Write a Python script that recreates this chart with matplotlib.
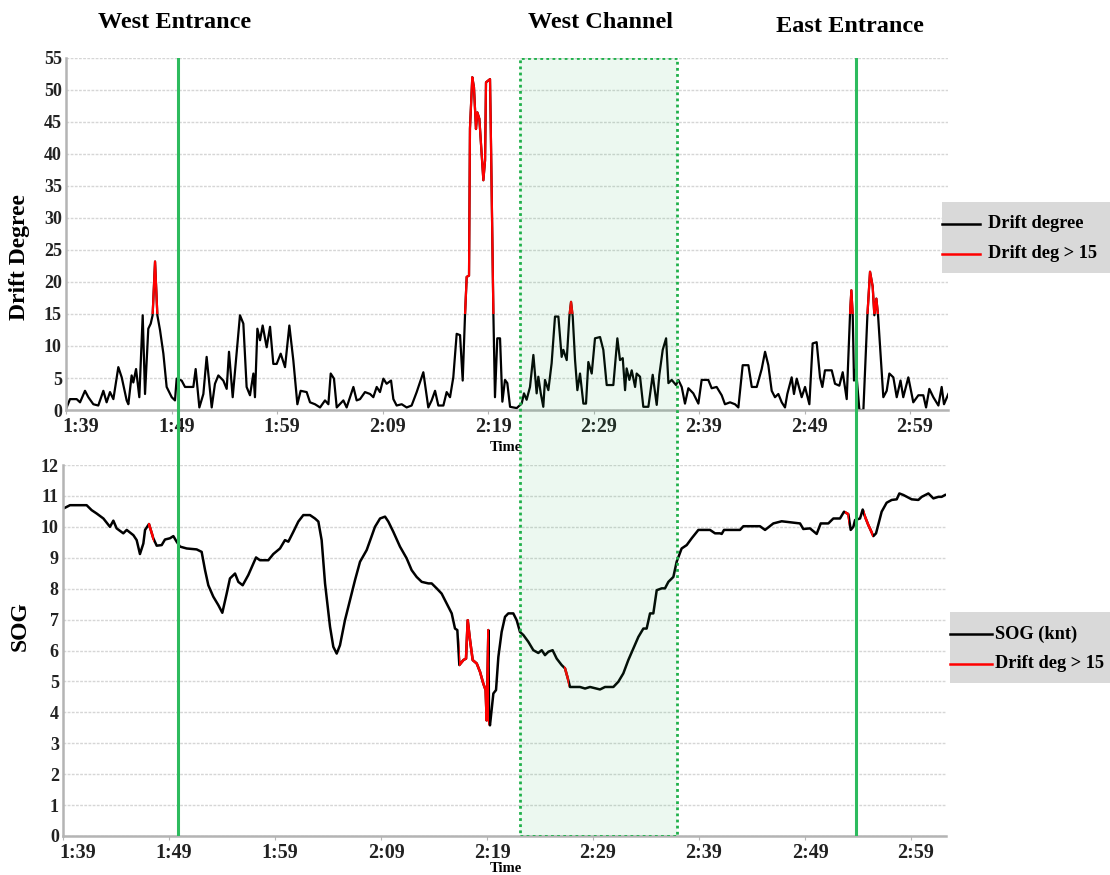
import numpy as np
import matplotlib
matplotlib.use("Agg")
import matplotlib.pyplot as plt
import matplotlib.transforms as mtransforms
from matplotlib.patches import Rectangle
from matplotlib.lines import Line2D

plt.rcParams['font.family'] = ['Liberation Serif', 'DejaVu Serif']
plt.rcParams['font.weight'] = 'bold'

# minutes after 1:39
drift_t = [0.06, 0.38, 1.01, 1.33, 1.80, 2.12, 2.59, 3.06, 3.54, 3.85, 4.17, 4.49, 4.96, 5.28,
           5.75, 5.91, 6.22, 6.38, 6.64, 6.95, 7.27, 7.49, 7.80, 8.03, 8.21, 8.44, 8.66, 8.91,
           9.23, 9.54, 10.02, 10.33, 10.49, 10.96, 11.28, 12.07, 12.29, 12.64, 13.02, 13.33,
           13.81, 14.12, 14.44, 14.91, 15.23, 15.45, 15.80, 16.11, 16.49, 16.81, 17.12, 17.44,
           17.76, 17.91, 18.14, 18.39, 18.64, 19.02, 19.34, 19.65, 19.97, 20.35, 20.76, 21.17,
           21.55, 21.93, 22.24, 22.81, 23.13, 23.60, 24.08, 24.55, 24.87, 25.09, 25.40, 25.66,
           26.29, 26.60, 26.92, 27.24, 27.55, 27.87,
           28.34, 28.82, 29.13, 29.45, 29.76, 30.08, 30.39, 30.81, 31.03, 31.34, 31.82, 32.29,
           32.76, 33.24, 33.87, 34.34, 34.66, 34.98, 35.29, 35.77, 36.08, 36.40, 36.71, 37.03,
           37.35, 37.60, 37.82, 37.98, 38.20, 38.29, 38.51, 38.67, 38.86, 38.99, 39.18, 39.56,
           39.72, 39.81, 40.19, 40.28, 40.51, 40.66, 40.88, 41.14, 41.36, 41.61, 41.83, 42.09,
           42.72, 43.19, 43.41, 43.66, 43.98, 44.30, 44.61, 44.77, 45.00, 45.24, 45.40, 45.72,
           46.03, 46.35, 46.67, 46.98, 47.14, 47.46, 47.71, 47.87, 48.03, 48.25, 48.47, 48.72,
           49.04, 49.29, 49.51, 49.83, 50.14, 50.62, 50.93, 51.25, 51.88, 52.26, 52.51, 52.77,
           52.99, 53.14, 53.40, 53.62, 53.94, 54.09, 54.41, 54.72, 55.20, 55.61, 55.99, 56.24,
           56.56, 56.88, 57.10, 57.41, 57.82, 58.04, 58.36, 58.67, 58.99, 59.46, 59.94, 60.25,
           60.88, 61.20, 61.67, 62.15, 62.46, 62.94, 63.41, 63.73, 64.14, 64.68, 65.00, 65.47,
           65.94, 66.26, 66.57, 66.89, 67.20, 67.52, 67.84, 68.15, 68.37, 68.78, 69.00, 69.26,
           69.73, 70.05, 70.46, 70.77, 71.15, 71.47, 71.69, 71.94, 72.58, 72.89, 73.30, 73.62,
           74.00, 74.31, 74.44, 74.57, 74.69, 74.88, 75.20, 75.58, 75.96, 76.21, 76.46, 76.62,
           76.81, 76.97, 77.47, 77.79, 78.04, 78.42, 78.74, 79.10, 79.36, 79.84, 80.31, 80.79,
           81.26, 81.52, 81.83, 82.21, 82.69, 83.00, 83.22, 83.63]
drift_deg = [0.4, 1.7, 1.7, 1.2, 3.0, 2.0, 0.9, 0.7, 3.0, 1.2, 2.8, 1.7, 6.7, 5.1,
             1.5, 0.9, 5.4, 4.3, 6.4, 2.0, 14.8, 2.5, 12.7, 13.5, 14.8, 23.2, 14.8, 12.5,
             8.8, 3.6, 2.0, 1.5, 4.9, 4.6, 3.6, 3.6, 6.4, 0.4, 2.5, 8.3,
             0.4, 4.1, 5.4, 4.6, 3.3, 9.1, 2.0, 7.7, 14.8, 13.5, 3.6, 2.3,
             5.7, 2.0, 12.7, 10.9, 13.2, 9.8, 13.0, 7.2, 7.2, 8.8, 6.7, 13.2,
             7.7, 0.9, 3.0, 2.8, 1.2, 0.9, 0.4, 1.5, 0.9, 5.7, 4.9, 0.4,
             1.5, 0.4, 2.0, 3.6, 1.5, 1.7,
             2.8, 2.5, 2.0, 3.6, 2.8, 4.9, 4.1, 4.6, 1.7, 0.7, 0.9, 0.4,
             0.7, 2.8, 5.9, 0.4, 1.5, 3.0, 0.7, 0.7, 2.8, 2.0, 5.1, 11.9,
             11.7, 4.6, 14.8, 20.8, 21.0, 44.0, 52.0, 50.4, 43.9, 46.5, 45.5, 35.9,
             39.0, 51.2, 51.7, 42.0, 15.0, 2.0, 11.2, 11.2, 1.3, 4.7, 4.2, 0.5,
             0.3, 1.0, 2.6, 1.6, 3.6, 8.6, 2.6, 5.2, 2.6, 0.5, 4.7, 3.1,
             7.3, 14.6, 14.6, 8.3, 9.4, 7.8, 14.6, 16.9, 14.6, 7.8, 3.1, 5.7,
             1.0, 1.0, 7.5, 5.7, 11.2, 11.4, 9.4, 3.9, 3.9, 11.2, 7.8, 8.1,
             3.1, 6.5, 4.7, 6.2, 3.6, 5.7, 5.2, 0.5, 0.5, 5.5, 0.8, 5.5,
             9.4, 11.2, 4.2, 4.7, 3.9, 4.7, 3.6, 1.0, 3.4, 2.6, 1.0, 4.7,
             4.7, 3.4, 3.6, 2.3, 0.9, 1.2, 0.9, 0.4, 7.0, 7.0, 3.6, 3.6,
             6.4, 9.1, 7.0, 3.0, 2.0, 2.5, 1.2, 0.4, 2.5, 5.1, 2.5, 4.9,
             2.0, 3.6, 0.9, 10.4, 10.6, 5.1, 3.6, 6.2, 6.2, 4.1, 3.8, 5.9,
             1.7, 14.8, 18.7, 14.8, 4.6, 6.4, 0.0, 0.0, 14.8, 21.6, 19.3, 14.8,
             17.4, 14.8, 2.0, 3.0, 5.7, 5.1, 2.0, 4.6, 2.0, 5.1, 1.2, 2.3,
             2.3, 0.4, 3.3, 2.0, 0.7, 3.6, 0.9, 2.5]

sog_t = [0.09, 0.66, 2.23, 2.70, 3.18, 3.81, 4.43, 4.75, 5.06, 5.69, 6.01, 6.64, 6.95, 7.26,
         7.58, 7.74, 8.11, 8.52, 8.84, 9.31, 9.62, 10.09, 10.41, 10.72, 11.04, 11.67, 12.61,
         13.08, 13.40, 13.71, 14.18, 14.65, 15.03, 15.44, 15.75, 16.23, 16.54, 16.95, 17.48,
         18.21, 18.58, 19.37, 19.84, 20.47, 20.94, 21.26, 21.73, 22.20, 22.67, 23.30, 23.77,
         24.09, 24.40, 24.72, 25.19, 25.50, 25.82, 26.13, 26.60, 27.23, 27.55, 28.02, 28.65,
         29.43, 29.91, 30.38, 30.69, 31.16, 31.79, 32.42, 32.89, 33.36, 33.84, 34.47, 34.78,
         35.25, 35.72, 36.20, 36.67, 36.98, 37.20, 37.39, 37.77, 38.02, 38.18, 38.40, 38.65,
         39.03, 39.34, 39.65, 39.87, 39.97, 40.13, 40.19, 40.28, 40.60, 40.85, 41.07, 41.38,
         41.70, 42.01, 42.48, 42.80, 43.11, 43.43, 43.90, 44.37, 44.84, 45.16, 45.47, 45.79,
         46.19, 46.57, 47.04, 47.36, 47.67, 47.83, 48.77, 49.25, 49.72, 50.66, 51.13, 51.92,
         52.39, 52.86, 53.33, 53.80, 54.28, 54.75, 55.06, 55.38, 55.69, 56.01, 56.48, 56.79,
         57.11, 57.58, 57.89, 58.36, 58.84, 59.31, 59.94, 60.41, 61.04, 61.51, 61.98,
         62.14, 62.36, 63.87, 64.18, 65.75, 66.23, 67.01, 67.80, 69.53, 69.84, 70.47, 71.10,
         71.48, 72.20, 72.67, 73.30, 73.68, 74.09, 74.31, 74.56, 74.72, 75.19, 75.44, 75.60,
         75.97, 76.45, 76.70, 77.23, 77.70, 78.18, 78.65, 78.90, 79.28, 80.06, 80.69, 81.01,
         81.64, 82.11, 82.58, 82.89, 83.21]
sog_knt = [10.6, 10.7, 10.7, 10.54, 10.43, 10.27, 10.0, 10.2, 9.95, 9.79, 9.9, 9.73, 9.57, 9.12,
           9.46, 9.9, 10.09, 9.63, 9.39, 9.41, 9.59, 9.63, 9.7, 9.52, 9.36, 9.3, 9.27,
           9.19, 8.6, 8.11, 7.74, 7.47, 7.22, 7.84, 8.33, 8.49, 8.22, 8.11, 8.44,
           9.01, 8.92, 8.92, 9.12, 9.3, 9.57, 9.52, 9.84, 10.17, 10.38, 10.38, 10.27,
           10.17, 9.57, 8.17, 6.77, 6.12, 5.9, 6.17, 6.98, 7.84, 8.28, 8.87, 9.25,
           10.0, 10.27, 10.33, 10.17, 9.84, 9.36, 8.98, 8.6, 8.38, 8.22, 8.17, 8.17,
           8.01, 7.84, 7.52, 7.2, 6.71, 6.66, 5.53, 5.69, 5.74, 6.98, 6.33, 5.69,
           5.58, 5.31, 4.93, 4.72, 3.74, 6.66, 3.74, 3.58, 4.61, 4.72, 5.79, 6.6,
           7.09, 7.2, 7.2, 6.98, 6.6, 6.5, 6.28, 6.01, 5.92, 6.01, 5.85, 5.96,
           6.01, 5.74, 5.53, 5.42, 5.04, 4.82, 4.82, 4.77, 4.82, 4.74, 4.82, 4.82,
           4.99, 5.26, 5.69, 6.06, 6.44, 6.71, 6.71, 7.2, 7.2, 7.95, 8.01, 8.01,
           8.22, 8.38, 8.87, 9.3, 9.41, 9.63, 9.9, 9.9, 9.9, 9.79, 9.79,
           9.77, 9.9, 9.9, 10.02, 10.02, 9.9, 10.11, 10.18, 10.11, 9.93, 9.95, 9.77,
           10.11, 10.11, 10.27, 10.27, 10.49, 10.41, 9.9, 10.0, 10.22, 10.27, 10.56, 10.38,
           10.06, 9.7, 9.79, 10.49, 10.78, 10.87, 10.89, 11.08, 11.03, 10.89, 10.87, 10.97,
           11.08, 10.92, 10.97, 10.97, 11.03]

# stretches where drift > 15 (shown red on the SOG trace)
sog_red_spans = [(8.05, 8.58), (37.35, 40.22), (47.3, 47.7), (73.75, 74.15), (75.55, 76.45)]

tick_minutes = [0, 10, 20, 30, 40, 50, 60, 70, 80]
tick_labels = ["1:39", "1:49", "1:59", "2:09", "2:19", "2:29", "2:39", "2:49", "2:59"]

west_entrance = 10.6
east_entrance = 74.9
west_channel = (43.0, 57.9)
drift_limit = 15

W, H = 1110, 875
fig = plt.figure(figsize=(W / 100, H / 100), dpi=100)


def fx(px):
    return px / W


def fy(py):
    return 1 - py / H


def style_axes(ax, ymax, ystep, xmax):
    ax.set_xlim(0, xmax)
    ax.set_ylim(0, ymax)
    ax.set_yticks(np.arange(0, ymax + 0.01, ystep))
    ax.set_xticks(tick_minutes)
    ax.set_xticklabels(tick_labels)
    for s in ["top", "right"]:
        ax.spines[s].set_visible(False)
    for s in ["left", "bottom"]:
        ax.spines[s].set_color("#b4b4b4")
        ax.spines[s].set_linewidth(1.8)
    ax.yaxis.grid(True, linestyle=(0, (2, 1)), color="#d6d6d6", lw=1)
    ax.set_axisbelow(True)
    ax.tick_params(axis="y", length=0, pad=3, labelsize=13, labelcolor="#222222")
    ax.tick_params(axis="x", length=3, color="#b4b4b4", pad=2, labelsize=14.5, labelcolor="#222222")
    shift = mtransforms.ScaledTranslation(5 / 100, 0, fig.dpi_scale_trans)
    for i, lab in enumerate(ax.get_xticklabels()):
        lab.set_fontweight("bold")
        lab.set_transform(lab.get_transform() + (mtransforms.ScaledTranslation(15 / 100, 0, fig.dpi_scale_trans) if i == 0 else shift))
    for lab in ax.get_yticklabels():
        lab.set_fontweight("bold")


# top panel: drift degree
ax1 = fig.add_axes([fx(66), fy(410), fx(948 - 66), (410 - 58) / H])
style_axes(ax1, 55, 5, 83.6)
ax1.plot(drift_t, drift_deg, color="black", lw=1.6)
red1, = ax1.plot(drift_t, drift_deg, color="#ff0000", lw=1.6)
red1.set_clip_path(Rectangle((0, drift_limit), 100, 100, transform=ax1.transData))

# bottom panel: SOG
ax2 = fig.add_axes([fx(63), fy(836), fx(946 - 63), (836 - 465) / H])
style_axes(ax2, 12, 1, 83.3)
ax2.plot(sog_t, sog_knt, color="black", lw=1.8)
for t0, t1 in sog_red_spans:
    r, = ax2.plot(sog_t, sog_knt, color="#ff0000", lw=1.8)
    r.set_clip_path(Rectangle((t0, -1), t1 - t0, 20, transform=ax2.transData))

# overlay for entrances and channel spanning both panels
ov = fig.add_axes([fx(66), fy(836), fx(948 - 66), (836 - 58) / H], zorder=5)
ov.set_xlim(0, 83.6)
ov.set_ylim(0, 1)
ov.axis("off")
ov.patch.set_alpha(0)
ov.add_patch(Rectangle((west_channel[0], 0), west_channel[1] - west_channel[0], 1,
                       facecolor="#2eb85c", alpha=0.09, edgecolor="none"))
ov.add_patch(Rectangle((west_channel[0], 0), west_channel[1] - west_channel[0], 1,
                       facecolor="none", edgecolor="#1fb04a", lw=2, linestyle=(0, (1, 1.2))))
ov.axvline(west_entrance, color="#2dbb5e", lw=2.2)
ov.axvline(east_entrance, color="#2dbb5e", lw=2.2)

# section titles
fig.text(fx(175), fy(22), "West Entrance", ha="center", va="center", fontsize=17.5, fontweight="bold")
fig.text(fx(600), fy(22), "West Channel", ha="center", va="center", fontsize=17.5, fontweight="bold")
fig.text(fx(850), fy(26), "East Entrance", ha="center", va="center", fontsize=17.5, fontweight="bold")

fig.text(fx(20), fy(257), "Drift Degree", rotation=90, ha="center", va="center", fontsize=17, fontweight="bold")
fig.text(fx(20), fy(626), "SOG", rotation=90, ha="center", va="center", fontsize=17, fontweight="bold")
fig.text(fx(506), fy(447), "Time", ha="center", va="center", fontsize=10.5, fontweight="bold")
fig.text(fx(506), fy(869), "Time", ha="center", va="center", fontsize=10.5, fontweight="bold")


# legends as grey boxes at the right edge
def legend_box(x0, y0, y1, x_line1, x_text, labels):
    fig.patches.append(Rectangle((fx(x0), fy(y1)), fx(W - x0), (y1 - y0) / H,
                                 transform=fig.transFigure, facecolor="#d9d9d9", edgecolor="none"))
    ys = [y0 + 22, y0 + 52]
    for yy, (lab, col) in zip(ys, labels):
        fig.lines.append(Line2D([fx(x0), fx(x_line1)], [fy(yy), fy(yy)], color=col, lw=1.8,
                                transform=fig.transFigure))
        fig.text(fx(x_text), fy(yy), lab, ha="left", va="center", fontsize=13.2, fontweight="bold")


legend_box(942, 202, 273, 980, 988, [("Drift degree", "black"), ("Drift deg > 15", "#ff0000")])
legend_box(950, 612, 683, 992, 995, [("SOG (knt)", "black"), ("Drift deg > 15", "#ff0000")])

fig.savefig("out.png", dpi=100)
